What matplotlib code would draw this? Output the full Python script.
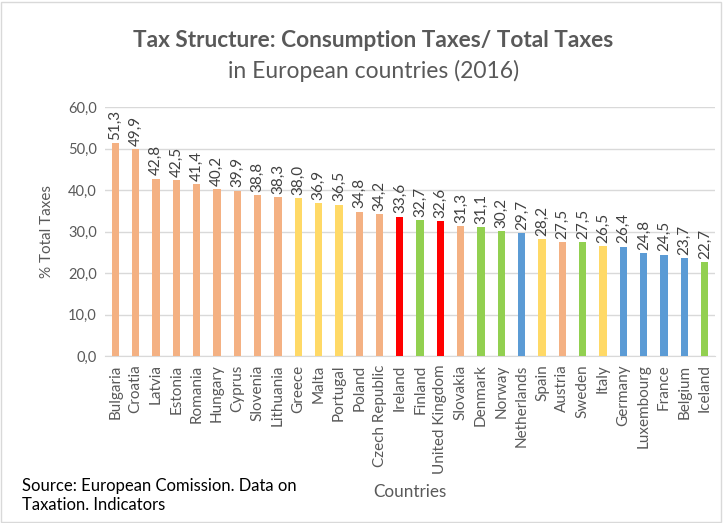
import numpy as np
import matplotlib.pyplot as plt
from matplotlib.patches import Rectangle

plt.rcParams['font.family'] = ['Lato', 'DejaVu Sans']

countries = ["Bulgaria", "Croatia", "Latvia", "Estonia", "Romania", "Hungary",
             "Cyprus", "Slovenia", "Lithuania", "Greece", "Malta", "Portugal",
             "Poland", "Czech Republic", "Ireland", "Finland", "United Kingdom",
             "Slovakia", "Denmark", "Norway", "Netherlands", "Spain", "Austria",
             "Sweden", "Italy", "Germany", "Luxembourg", "France", "Belgium",
             "Iceland"]
values = [51.3, 49.9, 42.8, 42.5, 41.4, 40.2, 39.9, 38.8, 38.3, 38.0, 36.9,
          36.5, 34.8, 34.2, 33.6, 32.7, 32.6, 31.3, 31.1, 30.2, 29.7, 28.2,
          27.5, 27.5, 26.5, 26.4, 24.8, 24.5, 23.7, 22.7]
groups = ["S", "S", "S", "S", "S", "S", "S", "S", "S", "Y", "Y", "Y", "S", "S",
          "R", "G", "R", "S", "G", "G", "B", "Y", "S", "G", "Y", "B", "B", "B",
          "B", "G"]

palette = {"S": "#F4B183", "Y": "#FFD966", "R": "#FF0000",
           "G": "#92D050", "B": "#5B9BD5"}
colors = [palette[g] for g in groups]

fig = plt.figure(figsize=(7.25, 5.23), dpi=100)
ax = fig.add_axes([0.145, 0.319, 0.841, 0.476])

x = np.arange(len(countries))
ax.bar(x, values, width=0.36, color=colors, zorder=3)

for xi, v in zip(x, values):
    ax.text(xi, v + 0.8, f"{v:.1f}".replace(".", ","), rotation=90,
            ha="center", va="bottom", fontsize=11, color="#404040")

ax.set_xlim(-0.5, len(countries) - 0.5)
ax.set_ylim(0, 60)
ax.set_yticks(np.arange(0, 61, 10))
ax.set_yticklabels([f"{t:.1f}".replace(".", ",") for t in np.arange(0, 61, 10)],
                   fontsize=10.5, color="#595959")
ax.set_xticks(x)
ax.set_xticklabels(countries, rotation=90, fontsize=11, color="#595959")
ax.tick_params(length=0, pad=6)
ax.grid(axis="y", color="#D9D9D9", linewidth=1, zorder=0)
for s in ["left", "right", "top"]:
    ax.spines[s].set_visible(False)
ax.spines["bottom"].set_color("#D9D9D9")

ax.set_ylabel("% Total Taxes", fontsize=11, color="#595959", labelpad=10)
fig.text(0.566, 0.059, "Countries", ha="center", va="center",
         fontsize=12.3, color="#595959")

fig.text(0.515, 0.923, "Tax Structure: Consumption Taxes/ Total Taxes",
         ha="center", va="center", fontsize=16.3, fontweight="bold", color="#595959")
fig.text(0.515, 0.864, "in European countries (2016)",
         ha="center", va="center", fontsize=16.5, color="#595959")

fig.text(0.03, 0.052, "Source: European Comission. Data on\nTaxation. Indicators",
         ha="left", va="center", fontsize=12, color="#000000", linespacing=1.25)

fig.patches.append(Rectangle((0.002, 0.002), 0.993, 0.995, transform=fig.transFigure,
                             fill=False, edgecolor="#D9D9D9", linewidth=1))

fig.savefig("out.png", dpi=100)
